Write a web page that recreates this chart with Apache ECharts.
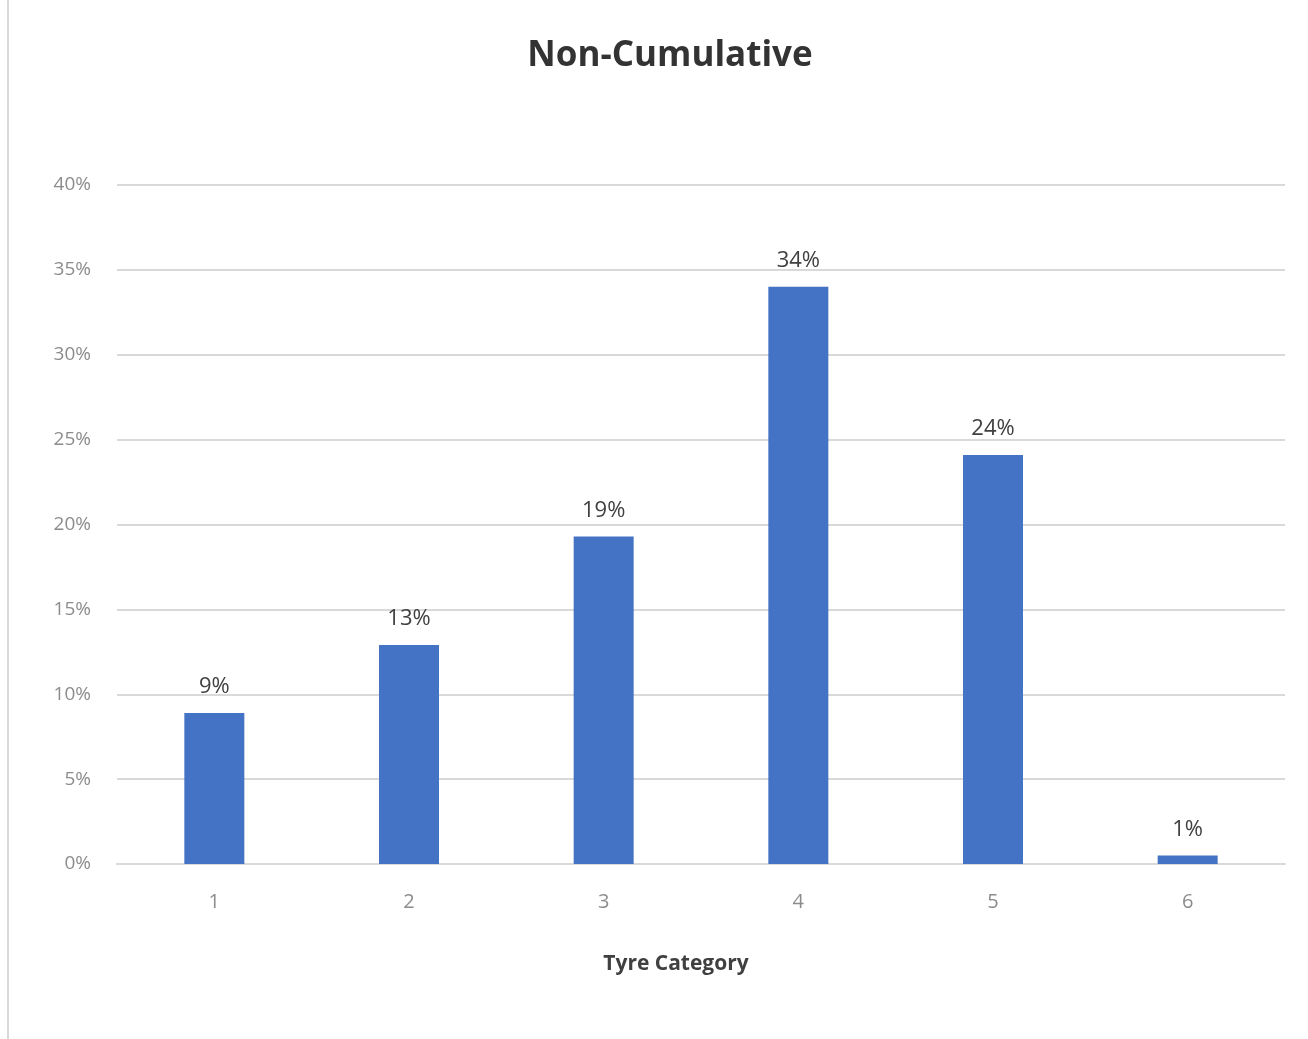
<!DOCTYPE html>
<html><head><meta charset="utf-8">
<script src="https://cdn.jsdelivr.net/npm/echarts@6/dist/echarts.min.js"></script>
<style>html,body{margin:0;padding:0;background:#fff}#c{width:1308px;height:1039px}</style>
</head><body><div id="c"></div>
<script>
const categories = ['1','2','3','4','5','6'];
const shares = [8.9, 12.9, 19.3, 34.0, 24.1, 0.5];
const labels = ['9%','13%','19%','34%','24%','1%'];
const chart = echarts.init(document.getElementById('c'));
chart.setOption({
  animation: false,
  backgroundColor: '#fff',
  title: { text: 'Non-Cumulative', left: 665, textAlign: 'center', top: 34,
    textStyle: { fontFamily: 'Open Sans', fontSize: 35, fontWeight: 'bold', color: '#333' } },
  graphic: [{ type: 'line', shape: { x1: 8, y1: 0, x2: 8, y2: 1039 }, style: { stroke: '#d9d9d9', lineWidth: 2 } }],
  grid: { left: 117, right: 23, top: 185, bottom: 175 },
  xAxis: { type: 'category', data: categories,
    name: 'Tyre Category', nameLocation: 'middle', nameGap: 90,
    nameTextStyle: { fontFamily: 'Open Sans', fontSize: 21, fontWeight: 'bold', color: '#404040', padding: [0, 50, 0, 0] },
    axisLine: { lineStyle: { color: '#d9d9d9', width: 2 } }, axisTick: { show: false },
    axisLabel: { margin: 28, fontFamily: 'Open Sans', fontSize: 20, color: '#8c8c8c' } },
  yAxis: { type: 'value', min: 0, max: 40, interval: 5,
    axisLine: { show: false }, axisTick: { show: false },
    splitLine: { lineStyle: { color: '#d9d9d9', width: 2 } },
    axisLabel: { formatter: '{value}%', margin: 26, fontFamily: 'Open Sans', fontSize: 19, color: '#8c8c8c' } },
  series: [{ type: 'bar', data: shares, barWidth: 60,
    itemStyle: { color: '#4472c4' },
    label: { show: true, position: 'top', distance: 15, fontFamily: 'Open Sans', fontSize: 22, color: '#404040',
      formatter: p => labels[p.dataIndex] } }]
});
</script></body></html>
